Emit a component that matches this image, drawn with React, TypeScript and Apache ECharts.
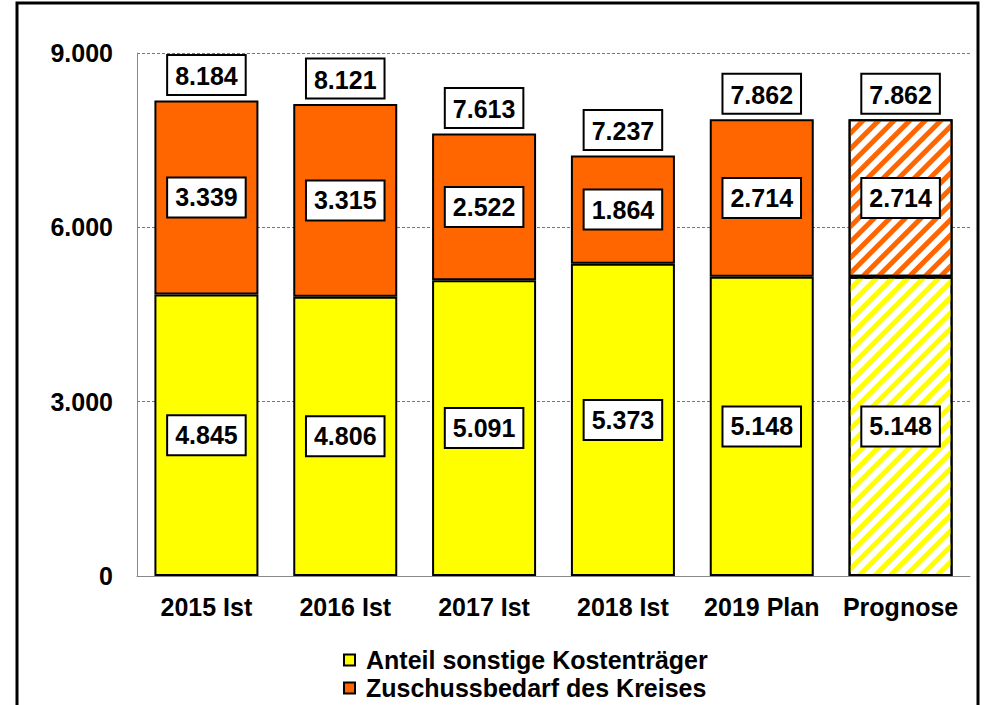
import React, { useEffect, useRef } from "react";
import * as echarts from "echarts";

const categories = ["2015 Ist", "2016 Ist", "2017 Ist", "2018 Ist", "2019 Plan", "Prognose"];
const anteilSonstige = [4845, 4806, 5091, 5373, 5148, 5148];
const zuschussKreis = [3339, 3315, 2522, 1864, 2714, 2714];
const yTicks = [0, 3000, 6000, 9000];
const seriesNames = ["Anteil sonstige Kostenträger", "Zuschussbedarf des Kreises"];
const hatchedIndex = 5;

const YELLOW = "#FFFF00";
const ORANGE = "#FF6600";
const FONT = "'Liberation Sans', Arial, sans-serif";
const FS = 25;

const fmt = (v: number) => {
  const s = String(Math.round(v));
  return s.replace(/\B(?=(\d{3})+(?!\d))/g, ".");
};

const boxLabel = {
  show: true,
  position: "inside" as const,
  formatter: (p: any) => fmt(p.value),
  color: "#000",
  fontFamily: FONT,
  fontWeight: "bold" as const,
  fontSize: FS,
  backgroundColor: "#fff",
  borderColor: "#000",
  borderWidth: 2,
  padding: [7, 7, 5, 7],
  lineHeight: 26,
  opacity: 1,
};

function makeData(values: number[], color: string) {
  return values.map((v, i) =>
    i === hatchedIndex
      ? {
          value: v,
          itemStyle: {
            color: "#fff",
            decal: {
              symbol: "rect",
              symbolSize: 1,
              dashArrayX: [1, 0],
              dashArrayY: [5, 6],
              rotation: -Math.PI / 4,
              color: color,
            },
          },
        }
      : v
  );
}

export default function App() {
  const ref = useRef<HTMLDivElement>(null);
  useEffect(() => {
    if (!ref.current) return;
    const chart = echarts.init(ref.current, null, { renderer: "svg" });
    const totals = anteilSonstige.map((v, i) => v + zuschussKreis[i]);
    chart.setOption({
      animation: false,
      backgroundColor: "#fff",
      textStyle: { fontFamily: FONT },
      grid: { left: 137, right: 15, top: 53, bottom: 129, containLabel: false },
      graphic: [
        {
          type: "rect",
          shape: { x: 17, y: 3, width: 961, height: 730 },
          style: { fill: "none", stroke: "#000", lineWidth: 3 },
          z: 100,
        },
      ],
      legend: {
        data: seriesNames,
        orient: "vertical",
        left: 343,
        top: 647,
        padding: 0,
        itemWidth: 11,
        itemHeight: 11,
        itemGap: 2,
        icon: "rect",
        textStyle: {
          fontFamily: FONT,
          fontWeight: "bold",
          fontSize: FS,
          color: "#000",
          lineHeight: 26,
          padding: [0, 0, 0, 6],
        },
      },
      xAxis: {
        type: "category",
        data: categories,
        axisTick: { show: false },
        axisLine: { show: true, lineStyle: { color: "#888", width: 1 } },
        axisLabel: { color: "#000", fontWeight: "bold", fontSize: FS, fontFamily: FONT, margin: 18, interval: 0 },
      },
      yAxis: {
        type: "value",
        min: yTicks[0],
        max: yTicks[yTicks.length - 1],
        interval: yTicks[1] - yTicks[0],
        axisTick: { show: false },
        axisLine: { show: true, lineStyle: { color: "#888", width: 1 } },
        splitLine: { show: true, lineStyle: { color: "#777", width: 1, type: [3, 2] } },
        axisLabel: {
          color: "#000",
          fontWeight: "bold",
          fontSize: FS,
          fontFamily: FONT,
          margin: 24,
          formatter: (v: number) => fmt(v),
        },
      },
      series: [
        {
          name: seriesNames[0],
          type: "bar",
          stack: "total",
          barWidth: 104,
          data: makeData(anteilSonstige, YELLOW),
          itemStyle: { color: YELLOW, borderColor: "#000", borderWidth: 2 },
          label: boxLabel,
        },
        {
          name: seriesNames[1],
          type: "bar",
          stack: "total",
          barWidth: 104,
          data: makeData(zuschussKreis, ORANGE),
          itemStyle: { color: ORANGE, borderColor: "#000", borderWidth: 2 },
          label: boxLabel,
        },
        {
          name: "Summe",
          type: "scatter",
          data: totals,
          symbolSize: 1,
          itemStyle: { color: "rgba(0,0,0,0)", opacity: 1 },
          label: { ...boxLabel, position: "top", distance: 6 },
          z: 10,
        },
      ],
    });
    return () => chart.dispose();
  }, []);
  return (
    <div
      ref={ref}
      style={{ position: "fixed", left: 0, top: 0, width: 985, height: 705, background: "#fff" }}
    />
  );
}
